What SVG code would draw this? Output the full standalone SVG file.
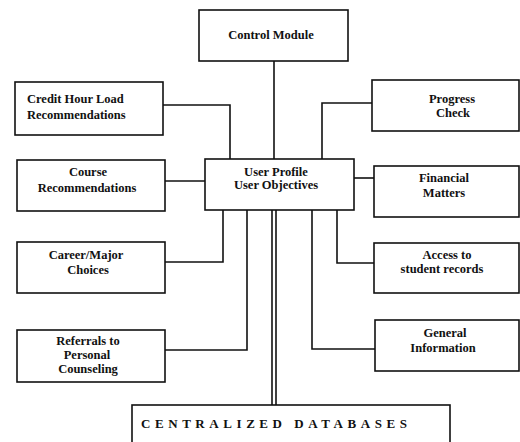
<svg xmlns="http://www.w3.org/2000/svg" width="520" height="442" viewBox="0 0 520 442">
  <style>
    .box { fill: #fff; stroke: #111; stroke-width: 1.6; }
    .wire { fill: none; stroke: #111; stroke-width: 1.6; }
    .lbl { font-family: "Liberation Serif", "Times New Roman", serif; font-weight: bold; font-size: 12.5px; fill: #111; text-anchor: middle; }
    .left { text-anchor: start; }
    .db { font-family: "Liberation Serif", "Times New Roman", serif; font-weight: bold; font-size: 13px; fill: #111; }
  </style>
  <rect width="520" height="442" fill="#fff"/>

  <!-- links between the hub and the modules -->
  <g id="connectors">
    <polyline class="wire" points="274,61 274,159"/>
    <polyline class="wire" points="163,105 230,105 230,159"/>
    <polyline class="wire" points="372,103 322,103 322,159"/>
    <polyline class="wire" points="165,181 205,181"/>
    <polyline class="wire" points="354,178 374,178"/>
    <polyline class="wire" points="165,262 223,262 223,210"/>
    <polyline class="wire" points="165,350 247,350 247,210"/>
    <polyline class="wire" points="337,210 337,263 374,263"/>
    <polyline class="wire" points="312,210 312,349 375,349"/>
    <!-- double line down to the databases -->
    <polyline class="wire" points="272,210 272,405"/>
    <polyline class="wire" points="276,210 276,405"/>
  </g>

  <g id="control-module">
    <rect class="box" x="199" y="10" width="149" height="51"/>
    <text class="lbl" x="271" y="39">Control Module</text>
  </g>

  <g id="credit-hour">
    <rect class="box" x="15" y="82" width="148" height="53"/>
    <text class="lbl left" x="27" y="103">Credit Hour Load</text>
    <text class="lbl left" x="27" y="119">Recommendations</text>
  </g>

  <g id="progress-check">
    <rect class="box" x="372" y="80" width="147" height="51"/>
    <text class="lbl" x="452" y="103">Progress</text>
    <text class="lbl" x="453" y="117">Check</text>
  </g>

  <g id="user-profile">
    <rect class="box" x="205" y="159" width="149" height="51"/>
    <text class="lbl" x="276" y="176">User Profile</text>
    <text class="lbl" x="276" y="189">User Objectives</text>
  </g>

  <g id="course-recommendations">
    <rect class="box" x="17" y="160" width="148" height="51"/>
    <text class="lbl" x="88" y="176">Course</text>
    <text class="lbl" x="87" y="192">Recommendations</text>
  </g>

  <g id="financial-matters">
    <rect class="box" x="374" y="166" width="145" height="51"/>
    <text class="lbl" x="444" y="182">Financial</text>
    <text class="lbl" x="444" y="197">Matters</text>
  </g>

  <g id="career-major">
    <rect class="box" x="17" y="242" width="148" height="51"/>
    <text class="lbl" x="86" y="259">Career/Major</text>
    <text class="lbl" x="88" y="274">Choices</text>
  </g>

  <g id="student-records">
    <rect class="box" x="374" y="243" width="145" height="50"/>
    <text class="lbl" x="447" y="259">Access to</text>
    <text class="lbl" x="442" y="273">student records</text>
  </g>

  <g id="referrals">
    <rect class="box" x="17" y="330" width="148" height="52"/>
    <text class="lbl" x="88" y="345">Referrals to</text>
    <text class="lbl" x="87" y="359">Personal</text>
    <text class="lbl" x="88" y="373">Counseling</text>
  </g>

  <g id="general-information">
    <rect class="box" x="375" y="320" width="144" height="51"/>
    <text class="lbl" x="445" y="337">General</text>
    <text class="lbl" x="443" y="352">Information</text>
  </g>

  <g id="centralized-databases">
    <rect class="box" x="132" y="405" width="318" height="42"/>
    <text class="db" x="141" y="428" textLength="266" lengthAdjust="spacing">CENTRALIZED DATABASES</text>
  </g>
</svg>
